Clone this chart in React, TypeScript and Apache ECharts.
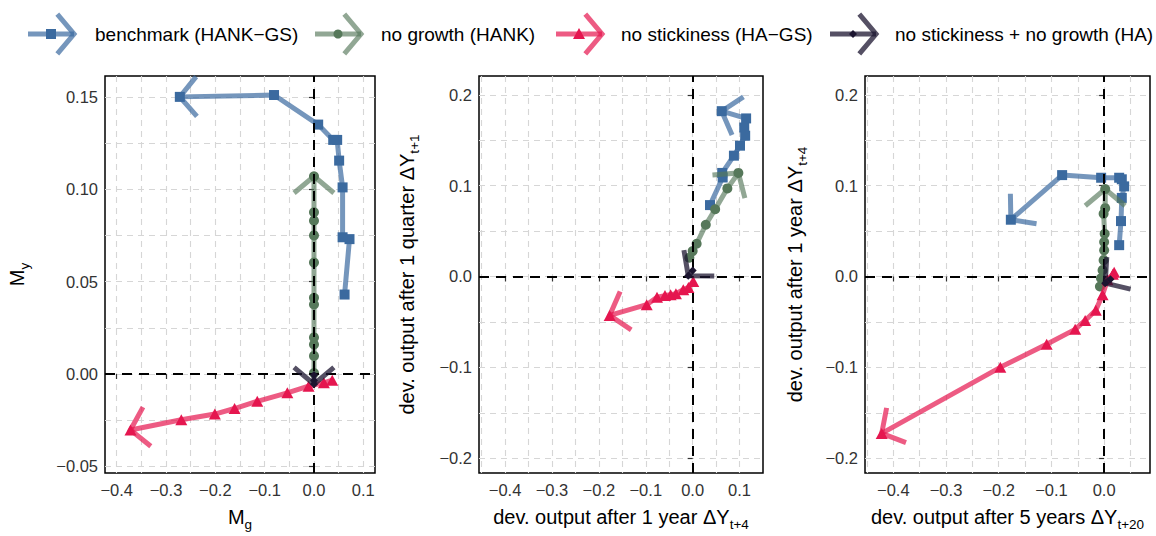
import React, { useEffect, useRef } from 'react';
import * as echarts from 'echarts';

const FONT = "'Liberation Sans', Arial, Helvetica, sans-serif";

// Model variants (order = drawing order and legend order)
const seriesNames = [
  'benchmark (HANK\u2212GS)',
  'no growth (HANK)',
  'no stickiness (HA\u2212GS)',
  'no stickiness + no growth (HA)',
];
const markerColors = ['#3b6a9f', '#56785a', '#e5164f', '#1c1530'];
const lineOpacity = [0.7, 0.65, 0.7, 0.75];
const markerShapes = ['rect', 'circle', 'triangle', 'diamond'];
const markerSizes: any[] = [10, 10, [12, 11], 8];

// Panel 1: M_g (x) vs M_y (y)
const benchmarkM = [
  [0.062, 0.043], [0.072, 0.073], [0.058, 0.074], [0.058, 0.101], [0.051, 0.1155],
  [0.047, 0.1267], [0.039, 0.1267], [0.0085, 0.135], [-0.081, 0.151], [-0.272, 0.150],
];
const noGrowthM = [
  [0, 0.0005], [0, 0.0098], [0, 0.016], [0, 0.0198], [0, 0.0376], [0, 0.0412],
  [0, 0.0603], [0, 0.075], [0, 0.083], [0, 0.0875], [0, 0.107],
];
const noStickM = [
  [0.037, -0.0034], [0.02, -0.0048], [-0.011, -0.0066], [-0.054, -0.0102], [-0.115, -0.0148],
  [-0.161, -0.0187], [-0.201, -0.0217], [-0.269, -0.0248], [-0.372, -0.0303],
];
const noStickNoGrowthM = [[0, -0.0005], [0, -0.0035], [0, -0.0055]];

// Panel 2: ΔY after 1 year (x) vs after 1 quarter (y)
const benchmarkQ = [
  [0.037, 0.0786], [0.064, 0.109], [0.063, 0.114], [0.088, 0.133], [0.101, 0.144],
  [0.112, 0.155], [0.110, 0.164], [0.114, 0.174], [0.062, 0.182],
];
const noGrowthQ = [
  [-0.007, 0.0207], [0.0, 0.028], [0.0085, 0.036], [0.028, 0.057], [0.048, 0.074],
  [0.074, 0.097], [0.0975, 0.114],
];
const noStickQ = [
  [0.0013, -0.0054], [-0.009, -0.012], [-0.02, -0.0145], [-0.0357, -0.019], [-0.047, -0.02],
  [-0.059, -0.021], [-0.076, -0.0228], [-0.098, -0.031], [-0.177, -0.0428],
];
const noStickNoGrowthQ = [[0.0, 0.0065], [-0.0094, 0.0008]];

// Panel 3: ΔY after 5 years (x) vs after 1 year (y)
const benchmarkY = [
  [0.0285, 0.0345], [0.032, 0.061], [0.0335, 0.0865], [0.038, 0.0992], [0.0335, 0.107],
  [0.0285, 0.1087], [-0.0057, 0.1087], [-0.0797, 0.1116], [-0.177, 0.0625],
];
const noGrowthY = [
  [-0.008, -0.011], [-0.006, -0.002], [-0.003, 0.007], [-0.001, 0.018], [0, 0.029],
  [0, 0.038], [0.001, 0.047], [-0.001, 0.069], [0.002, 0.0752], [0.002, 0.0963],
];
const noStickY = [
  [0.019, 0.0047], [0.0165, 0.0025], [0.0063, -0.0037], [-0.003, -0.02], [-0.0158, -0.0371],
  [-0.036, -0.0484], [-0.055, -0.0582], [-0.109, -0.0746], [-0.197, -0.1], [-0.422, -0.1727],
];
const noStickNoGrowthY = [[0.012, -0.003], [0.002, -0.0073]];

// Tick values
const xTicks1 = [-0.4, -0.3, -0.2, -0.1, 0, 0.1];
const yTicks1 = [-0.05, 0, 0.05, 0.1, 0.15];
const xTicks2 = [-0.4, -0.3, -0.2, -0.1, 0, 0.1];
const yTicks2 = [-0.2, -0.1, 0, 0.1, 0.2];
const xTicks3 = [-0.4, -0.3, -0.2, -0.1, 0];
const yTicks3 = [-0.2, -0.1, 0, 0.1, 0.2];

const panels = [
  {
    data: [benchmarkM, noGrowthM, noStickM, noStickNoGrowthM],
    xRange: [-0.4237, 0.1237], yRange: [-0.0536, 0.1613],
    xTicks: xTicks1, yTicks: yTicks1, xStep: 0.1, yStep: 0.05, xDec: 1, yDec: 2,
    xName: 'M{sub|g}', yName: 'M{sub|y}',
  },
  {
    data: [benchmarkQ, noGrowthQ, noStickQ, noStickNoGrowthQ],
    xRange: [-0.4556, 0.15], yRange: [-0.2163, 0.2207],
    xTicks: xTicks2, yTicks: yTicks2, xStep: 0.1, yStep: 0.1, xDec: 1, yDec: 1,
    xName: 'dev. output after 1 year \u0394Y{sub|t+4}',
    yName: 'dev. output after 1 quarter \u0394Y{sub|t+1}',
  },
  {
    data: [benchmarkY, noGrowthY, noStickY, noStickNoGrowthY],
    xRange: [-0.4537, 0.087], yRange: [-0.2163, 0.2207],
    xTicks: xTicks3, yTicks: yTicks3, xStep: 0.1, yStep: 0.1, xDec: 1, yDec: 1,
    xName: 'dev. output after 5 years \u0394Y{sub|t+20}',
    yName: 'dev. output after 1 year \u0394Y{sub|t+4}',
  },
];

// Layout of the three plot boxes
const grids = [
  { left: 105, top: 76, width: 270, height: 402 },
  { left: 479, top: 76, width: 284, height: 402 },
  { left: 865, top: 76, width: 285, height: 402 },
];
const yNameGaps = [74, 58, 56];

const ARROW_LEN = 26;
const ARROW_ANGLE = (50 * Math.PI) / 180;
const LINE_W = 5;

function fmt(v: number, dec: number) {
  const s = Math.abs(v).toFixed(dec);
  return (v < -1e-9 ? '\u2212' : '') + s;
}

const gridLine = { color: '#d6d6d6', type: [6, 5], width: 1.1 };

function nameStyle() {
  return {
    fontSize: 20,
    color: '#000',
    fontFamily: FONT,
    lineHeight: 28,
    rich: {
      sub: { fontSize: 13.5, fontFamily: FONT, color: '#000', verticalAlign: 'bottom', lineHeight: 15 },
    },
  };
}

function axis(i: number, dir: 'x' | 'y') {
  const p: any = panels[i];
  const range = dir === 'x' ? p.xRange : p.yRange;
  const ticks = dir === 'x' ? p.xTicks : p.yTicks;
  const step = dir === 'x' ? p.xStep : p.yStep;
  const dec = dir === 'x' ? p.xDec : p.yDec;
  return {
    type: 'value',
    gridIndex: i,
    min: range[0],
    max: range[1],
    minInterval: step,
    maxInterval: step,
    axisLine: { show: false },
    axisTick: { show: true, customValues: ticks, length: 5, lineStyle: { color: '#333', width: 1.2 } },
    axisLabel: {
      customValues: ticks,
      formatter: (v: number) => fmt(v, dec),
      color: '#333',
      fontSize: 16.5,
      fontFamily: FONT,
      margin: dir === 'x' ? 8 : 7,
    },
    splitLine: { show: true, lineStyle: gridLine },
    minorTick: { show: false, splitNumber: 2 },
    minorSplitLine: { show: true, lineStyle: gridLine },
    name: dir === 'x' ? p.xName : p.yName,
    nameLocation: 'middle',
    nameGap: dir === 'x' ? 30 : yNameGaps[i],
    nameTextStyle: nameStyle(),
  };
}

function arrowRender(color: string, op: number) {
  return (params: any, api: any) => {
    const p1 = api.coord([api.value(0), api.value(1)]);
    const p0 = api.coord([api.value(2), api.value(3)]);
    const base = Math.atan2(p0[1] - p1[1], p0[0] - p1[0]);
    const a1 = base + ARROW_ANGLE;
    const a2 = base - ARROW_ANGLE;
    return {
      type: 'polyline',
      shape: {
        points: [
          [p1[0] + ARROW_LEN * Math.cos(a1), p1[1] + ARROW_LEN * Math.sin(a1)],
          [p1[0], p1[1]],
          [p1[0] + ARROW_LEN * Math.cos(a2), p1[1] + ARROW_LEN * Math.sin(a2)],
        ],
      },
      style: { stroke: color, lineWidth: LINE_W, fill: null, opacity: op, lineJoin: 'miter' },
    };
  };
}

function buildSeries() {
  const out: any[] = [];
  panels.forEach((p, gi) => {
    // dashed zero reference lines
    out.push({
      type: 'line',
      xAxisIndex: gi,
      yAxisIndex: gi,
      data: [[0, 0]],
      showSymbol: false,
      lineStyle: { width: 0 },
      silent: true,
      z: 1,
      markLine: {
        silent: true,
        symbol: 'none',
        label: { show: false },
        lineStyle: { color: '#000', type: [10, 7], width: 2 },
        data: [{ xAxis: 0 }, { yAxis: 0 }],
      },
    });
    p.data.forEach((pts, si) => {
      const z = 3 + si;
      out.push({
        type: 'line',
        name: seriesNames[si],
        xAxisIndex: gi,
        yAxisIndex: gi,
        data: pts,
        symbol: markerShapes[si],
        symbolSize: markerSizes[si],
        showSymbol: true,
        showAllSymbol: true,
        clip: false,
        silent: true,
        z,
        lineStyle: { color: markerColors[si], width: LINE_W, opacity: lineOpacity[si], join: 'round', cap: 'butt' },
        itemStyle: { color: markerColors[si] },
      });
      const n = pts.length;
      out.push({
        type: 'custom',
        xAxisIndex: gi,
        yAxisIndex: gi,
        silent: true,
        clip: false,
        z,
        data: [[pts[n - 1][0], pts[n - 1][1], pts[n - 2][0], pts[n - 2][1]]],
        renderItem: arrowRender(markerColors[si], lineOpacity[si]),
      });
    });
  });
  return out;
}

// Legend keys: thick segment + marker + open arrowhead, then label
const legendX = [28, 315, 556, 830];
const legendTextX = [95, 381, 621, 895];
const LEG_Y = 34;

function legendMarker(si: number, cx: number, cy: number) {
  const c = markerColors[si];
  if (si === 0) return { type: 'rect', shape: { x: cx - 5, y: cy - 5, width: 10, height: 10 }, style: { fill: c } };
  if (si === 1) return { type: 'circle', shape: { cx, cy, r: 4.5 }, style: { fill: c } };
  if (si === 2)
    return { type: 'polygon', shape: { points: [[cx, cy - 6], [cx + 6, cy + 5], [cx - 6, cy + 5]] }, style: { fill: c } };
  return { type: 'polygon', shape: { points: [[cx, cy - 4], [cx + 4, cy], [cx, cy + 4], [cx - 4, cy]] }, style: { fill: c } };
}

function buildLegend() {
  const els: any[] = [];
  seriesNames.forEach((name, si) => {
    const x0 = legendX[si];
    const x1 = x0 + 46;
    const c = markerColors[si];
    const op = lineOpacity[si];
    els.push({
      type: 'line',
      shape: { x1: x0, y1: LEG_Y, x2: x1, y2: LEG_Y },
      style: { stroke: c, lineWidth: LINE_W, opacity: op },
    });
    const dx = ARROW_LEN * Math.cos(ARROW_ANGLE);
    const dy = ARROW_LEN * Math.sin(ARROW_ANGLE);
    els.push({
      type: 'polyline',
      shape: { points: [[x1 - dx, LEG_Y - dy], [x1, LEG_Y], [x1 - dx, LEG_Y + dy]] },
      style: { stroke: c, lineWidth: LINE_W, opacity: op, fill: null, lineJoin: 'miter' },
    });
    els.push(legendMarker(si, (x0 + x1) / 2, LEG_Y));
    els.push({
      type: 'text',
      x: legendTextX[si],
      y: LEG_Y,
      style: { text: name, fontSize: 19, fontFamily: FONT, fill: '#000', verticalAlign: 'middle', align: 'left' },
    });
  });
  return els;
}

export default function App() {
  const ref = useRef<HTMLDivElement>(null);
  useEffect(() => {
    if (!ref.current) return;
    const chart = echarts.init(ref.current, null, { renderer: 'svg' });
    chart.setOption({
      animation: false,
      backgroundColor: '#fff',
      grid: grids.map((g) => ({ ...g, show: true, borderColor: '#000', borderWidth: 1.5, containLabel: false })),
      xAxis: panels.map((_, i) => axis(i, 'x')),
      yAxis: panels.map((_, i) => axis(i, 'y')),
      series: buildSeries(),
      graphic: buildLegend(),
    });
    return () => chart.dispose();
  }, []);
  return (
    <div
      ref={ref}
      style={{ position: 'fixed', left: 0, top: 0, width: 1156, height: 536, background: '#fff' }}
    />
  );
}
